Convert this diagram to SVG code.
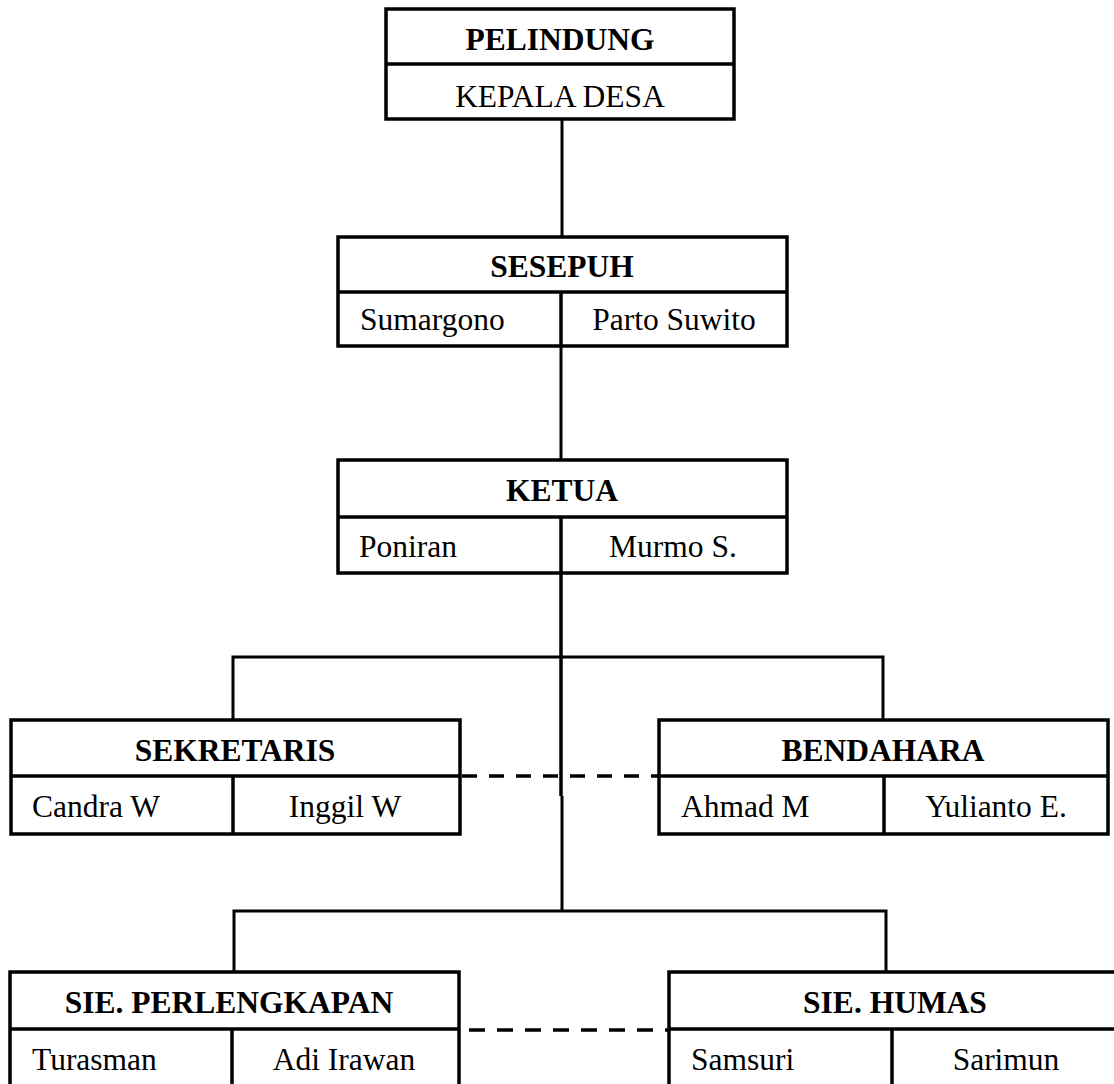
<svg xmlns="http://www.w3.org/2000/svg" width="1114" height="1084" viewBox="0 0 1114 1084">
<style>
.box{fill:#fff;stroke:#000;stroke-width:3.5}
.sep{stroke:#000;stroke-width:3.5}
.con{stroke:#000;stroke-width:3;fill:none}
.dash{stroke:#000;stroke-width:3.5;fill:none;stroke-dasharray:15 12}
text{font-family:"Liberation Serif","Times New Roman",serif;font-size:31.5px;fill:#000}
.t{font-weight:bold;text-anchor:middle}
.c{text-anchor:middle}
</style>
<rect width="1114" height="1084" fill="#fff"/>
<g id="connectors">
<line class="con" x1="562" y1="119" x2="562" y2="237"/>
<line class="con" x1="561" y1="346" x2="561" y2="460"/>
<line class="con" x1="561" y1="573" x2="561" y2="796" style="stroke-width:3.5"/>
<line class="con" x1="562" y1="796" x2="562" y2="911"/>
<polyline class="con" points="233,720 233,657 883,657 883,720"/>
<polyline class="con" points="234,972 234,911 886,911 886,972"/>
<line class="dash" x1="462" y1="776" x2="659" y2="776"/>
<line class="dash" x1="469" y1="1030" x2="669" y2="1030" style="stroke-dasharray:16 12"/>
</g>
<g id="pelindung">
<rect class="box" x="386" y="9" width="348" height="110"/>
<line class="sep" x1="386" y1="64" x2="734" y2="64"/>
<text class="t" x="560" y="50">PELINDUNG</text>
<text class="c" x="560" y="107">KEPALA DESA</text>
</g>
<g id="sesepuh">
<rect class="box" x="338" y="237" width="449" height="109"/>
<line class="sep" x1="338" y1="292" x2="787" y2="292"/>
<line class="sep" x1="561" y1="292" x2="561" y2="346"/>
<text class="t" x="562" y="277">SESEPUH</text>
<text x="360" y="330">Sumargono</text>
<text class="c" x="674" y="330">Parto Suwito</text>
</g>
<g id="ketua">
<rect class="box" x="338" y="460" width="449" height="113"/>
<line class="sep" x1="338" y1="517" x2="787" y2="517"/>
<line class="sep" x1="561" y1="517" x2="561" y2="573"/>
<text class="t" x="562" y="501">KETUA</text>
<text x="359" y="557">Poniran</text>
<text class="c" x="673" y="557">Murmo S.</text>
</g>
<g id="sekretaris">
<rect class="box" x="11" y="720" width="449" height="114"/>
<line class="sep" x1="11" y1="776" x2="460" y2="776"/>
<line class="sep" x1="233" y1="776" x2="233" y2="834"/>
<text class="t" x="235" y="761">SEKRETARIS</text>
<text x="32" y="817">Candra W</text>
<text class="c" x="345" y="817">Inggil W</text>
</g>
<g id="bendahara">
<rect class="box" x="659" y="720" width="449" height="114"/>
<line class="sep" x1="659" y1="776" x2="1108" y2="776"/>
<line class="sep" x1="884" y1="776" x2="884" y2="834"/>
<text class="t" x="883" y="761">BENDAHARA</text>
<text x="681" y="817">Ahmad M</text>
<text class="c" x="996" y="817">Yulianto E.</text>
</g>
<g id="sie-perlengkapan">
<rect class="box" x="10" y="972" width="449" height="150"/>
<line class="sep" x1="10" y1="1029" x2="459" y2="1029"/>
<line class="sep" x1="232" y1="1029" x2="232" y2="1122"/>
<text class="t" x="229" y="1013">SIE. PERLENGKAPAN</text>
<text x="32" y="1070">Turasman</text>
<text class="c" x="344" y="1070">Adi Irawan</text>
</g>
<g id="sie-humas">
<rect class="box" x="669" y="972" width="452" height="150"/>
<line class="sep" x1="669" y1="1029" x2="1121" y2="1029"/>
<line class="sep" x1="892" y1="1029" x2="892" y2="1122"/>
<text class="t" x="895" y="1013">SIE. HUMAS</text>
<text x="691" y="1070">Samsuri</text>
<text class="c" x="1006" y="1070">Sarimun</text>
</g>
</svg>
